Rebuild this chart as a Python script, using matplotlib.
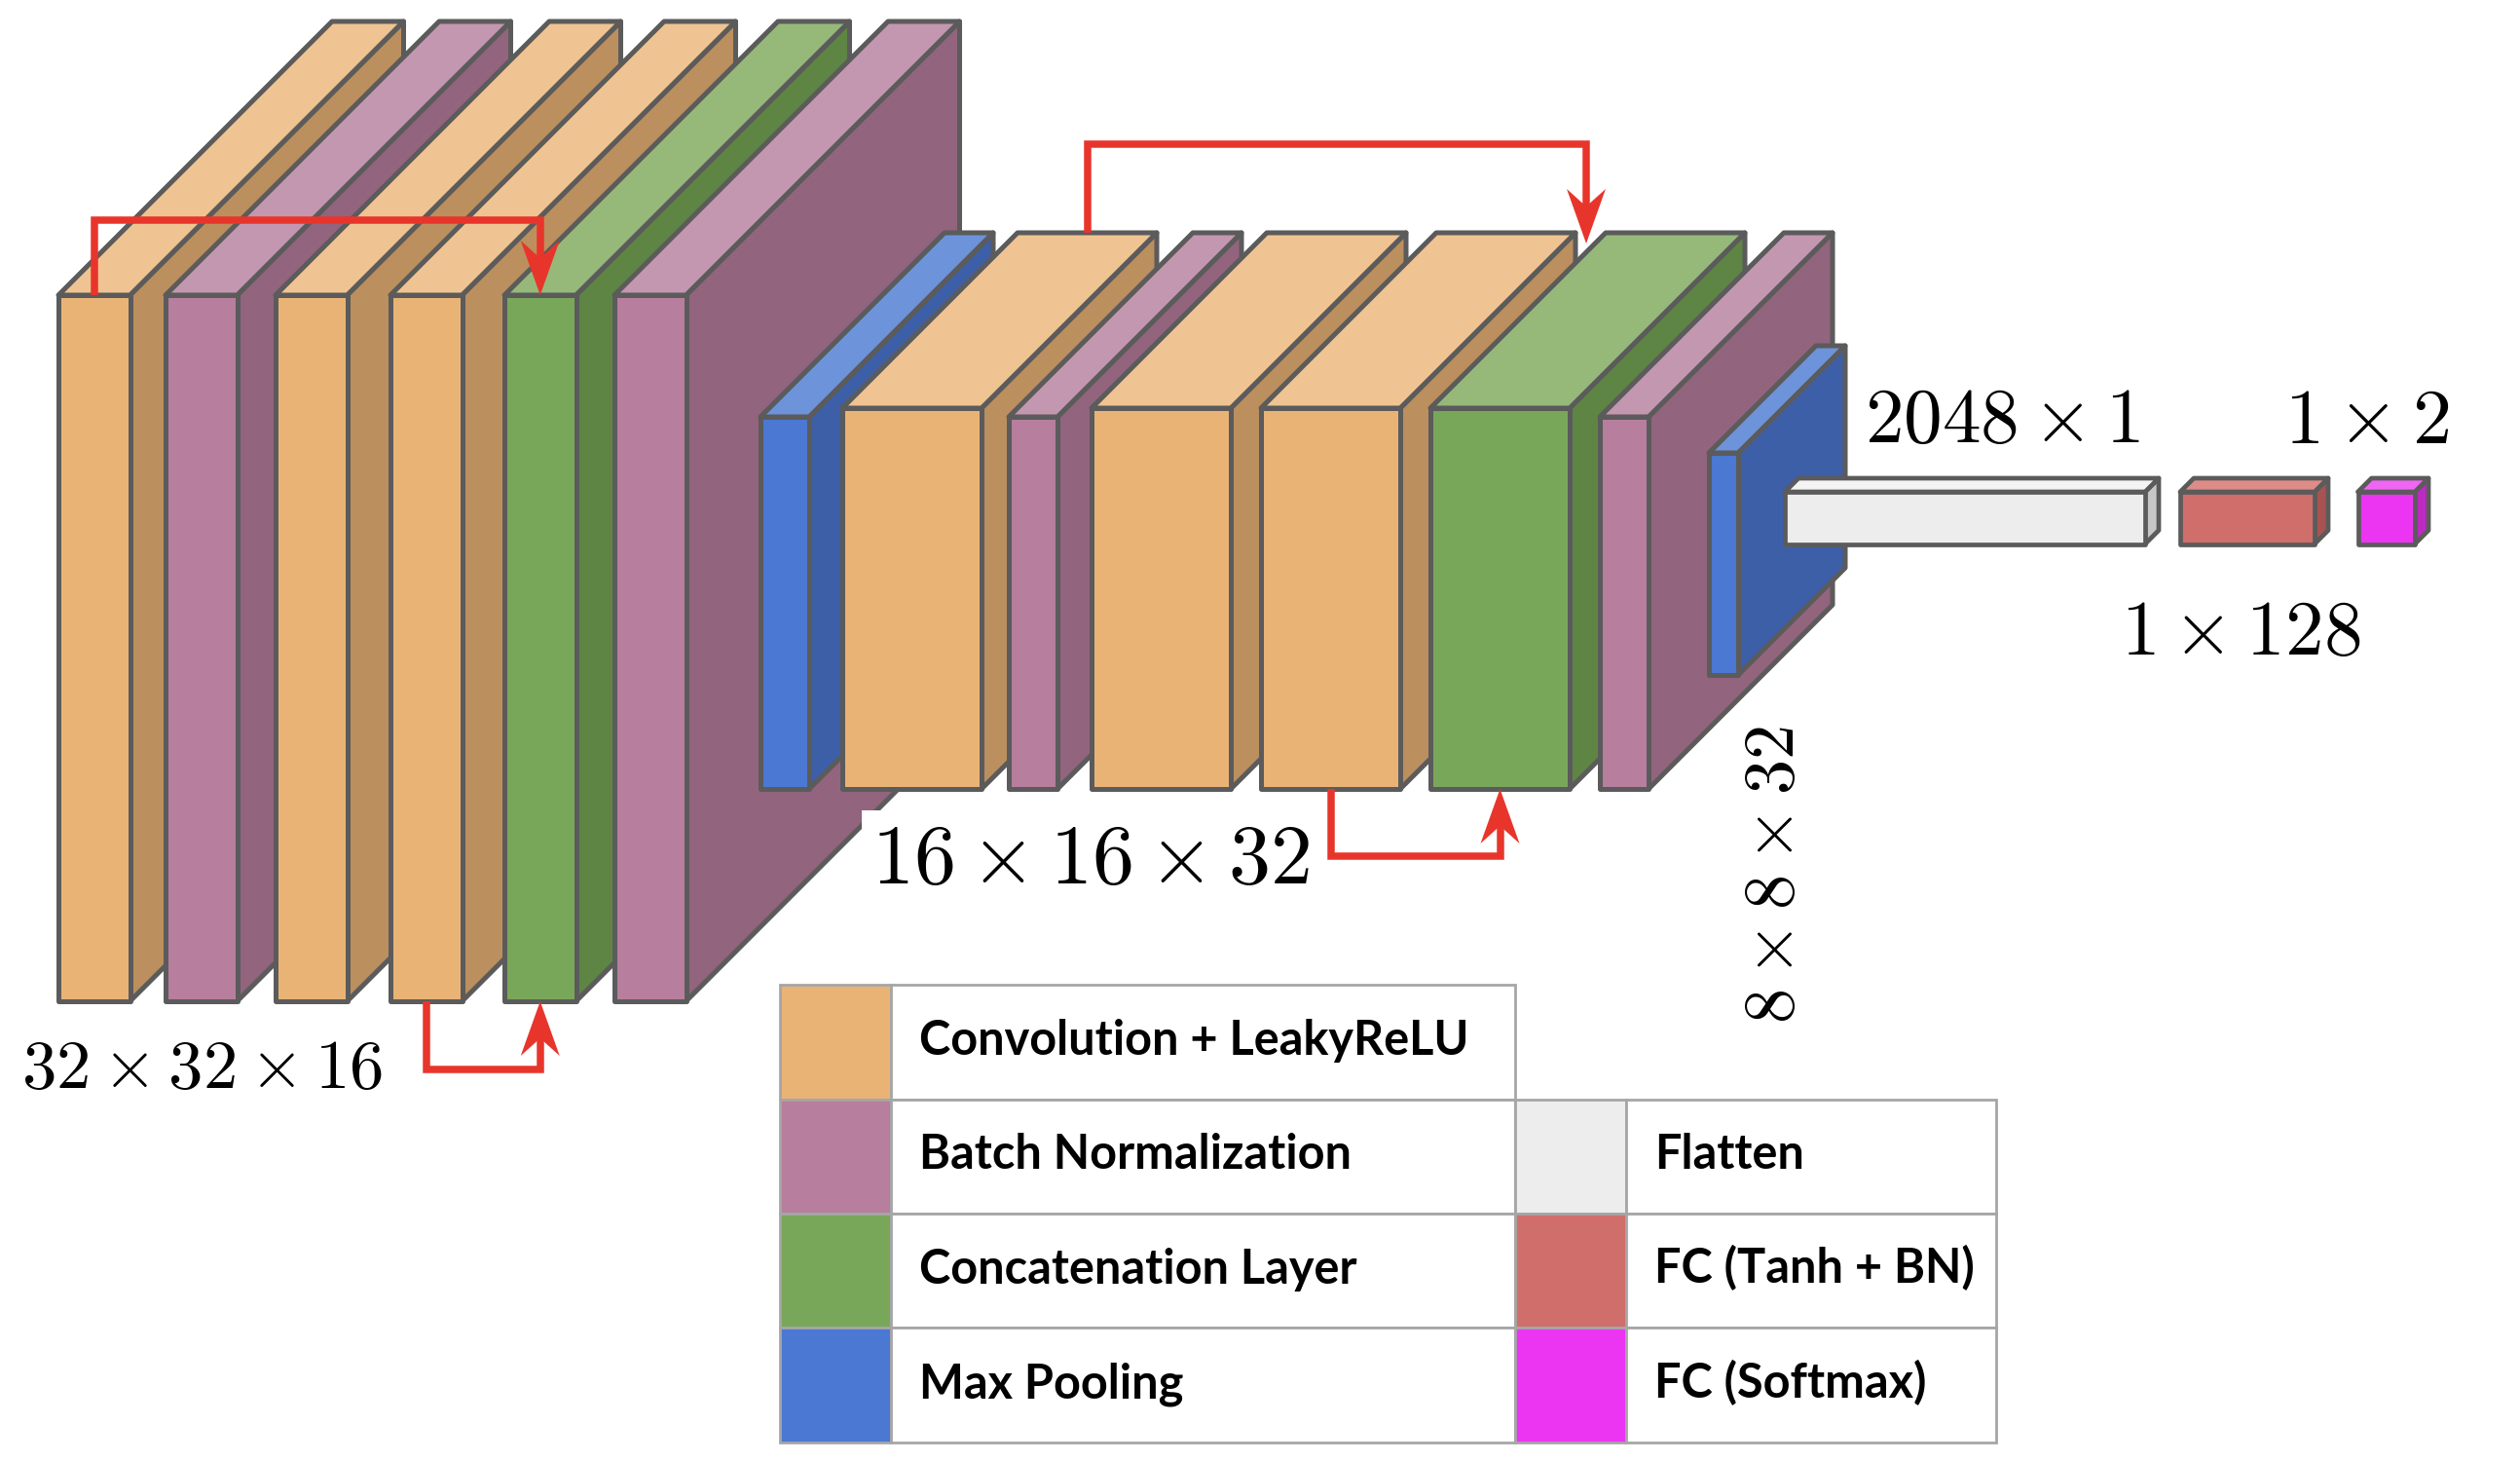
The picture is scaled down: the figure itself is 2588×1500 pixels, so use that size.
import matplotlib.pyplot as plt
from matplotlib.patches import Polygon, Rectangle

plt.rcParams['mathtext.fontset'] = 'cm'

# layer sequence of each stage
block1_layers = ['conv', 'bn', 'conv', 'conv', 'concat', 'bn']
block2_layers = ['pool', 'conv', 'bn', 'conv', 'conv', 'concat', 'bn']
block3_layers = ['pool']
dense_layers = ['flatten', 'fc', 'softmax']

# shape annotations
block_labels = [r'$32 \times 32 \times 16$', r'$16 \times 16 \times 32$', r'$8 \times 8 \times 32$']
dense_labels = [r'$2048 \times 1$', r'$1 \times 128$', r'$1 \times 2$']

# legend entries
legend_left_keys = ['conv', 'bn', 'concat', 'pool']
legend_left_text = ['Convolution + LeakyReLU', 'Batch Normalization', 'Concatenation Layer', 'Max Pooling']
legend_right_keys = ['flatten', 'fc', 'softmax']
legend_right_text = ['Flatten', 'FC (Tanh + BN)', 'FC (Softmax)']

# front / top / side colours
colors = {
    'conv':    ('#EAB376', '#F0C492', '#BC8F5E'),
    'bn':      ('#B77E9D', '#C497B0', '#92647D'),
    'concat':  ('#79A75A', '#96B97A', '#5F8545'),
    'pool':    ('#4B78D2', '#6D93DA', '#3D5FA8'),
    'flatten': ('#EDEDED', '#F4F4F4', '#C6C6C6'),
    'fc':      ('#D06E6B', '#DE8C88', '#A85352'),
    'softmax': ('#EC35F2', '#F066F4', '#BC2AC1'),
}
EDGE = '#5B5B5B'
RED = '#E8352B'
GRID = '#A6A6A6'

fig = plt.figure(figsize=(25.88, 15), dpi=100)
ax = fig.add_axes([0, 0, 1, 1])
ax.set_xlim(0, 2588)
ax.set_ylim(1500, 0)
ax.axis('off')


def box(x, w, top, bot, d, key, lw=3.6):
    front, topc, side = colors[key]
    x2 = x + w
    ax.add_patch(Polygon([(x2, top), (x2 + d, top - d), (x2 + d, bot - d), (x2, bot)],
                         closed=True, fc=side, ec=EDGE, lw=lw, joinstyle='round'))
    ax.add_patch(Polygon([(x, top), (x + d, top - d), (x2 + d, top - d), (x2, top)],
                         closed=True, fc=topc, ec=EDGE, lw=lw, joinstyle='round'))
    ax.add_patch(Rectangle((x, top), w, bot - top, fc=front, ec=EDGE, lw=lw, joinstyle='round'))


def skip(pts):
    # polyline ending in an arrow head at the last point
    tx, ty = pts[-1]
    px, py = pts[-2]
    s = 1 if ty > py else -1
    hl, hw, notch = 56, 20, 38
    line = pts[:-1] + [(tx, ty - s * notch)]
    xs, ys = zip(*line)
    ax.plot(xs, ys, color=RED, lw=5.4, solid_joinstyle='miter', solid_capstyle='butt', zorder=5)
    ax.add_patch(Polygon([(tx, ty), (tx - hw, ty - s * hl), (tx, ty - s * notch), (tx + hw, ty - s * hl)],
                         closed=True, fc=RED, ec='none', zorder=6))


# ---- stage 1 : 32x32x16
b1_x = [60, 170, 283, 401, 518, 631]
b1_w, b1_top, b1_bot, b1_d = 73.5, 303, 1028, 281
for key, x in zip(block1_layers, b1_x):
    box(x, b1_w, b1_top, b1_bot, b1_d, key)

# ---- stage 2 : 16x16x32
b2_x = [781, 865, 1036, 1121, 1295, 1469, 1643]
b2_bot = 810
for key, x in zip(block2_layers, b2_x):
    if key in ('pool', 'bn'):
        box(x, 50, 428, b2_bot, 189, key)
    else:
        box(x, 143, 419, b2_bot, 180, key)

# ---- stage 3 : 8x8x32
for key in block3_layers:
    box(1755, 30, 465, 693, 110, key)

# ---- dense part
dense_x = [1833, 2239, 2421.5]
dense_w = [370, 138, 58.5]
for key, x, w in zip(dense_layers, dense_x, dense_w):
    box(x, w, 505, 558.5, 14, key, lw=3.4)

# ---- skip connections
c = lambda x, w: x + w / 2
skip([(c(b1_x[0], b1_w), b1_top), (c(b1_x[0], b1_w), 226), (c(b1_x[4], b1_w), 226), (c(b1_x[4], b1_w), b1_top)])
skip([(c(b1_x[3], b1_w), b1_bot), (c(b1_x[3], b1_w), 1098), (c(b1_x[4], b1_w), 1098), (c(b1_x[4], b1_w), b1_bot)])
skip([(c(b2_x[1], 143) + 180, 239), (c(b2_x[1], 143) + 180, 148), (1629, 148), (1629, 250)])
skip([(c(b2_x[4], 143), b2_bot), (c(b2_x[4], 143), 879), (c(b2_x[5], 143), 879), (c(b2_x[5], 143), b2_bot)])

# ---- shape labels
ax.text(22, 1117, block_labels[0], fontsize=51, ha='left', va='baseline', color='black')
ax.text(895, 907, block_labels[1], fontsize=62, ha='left', va='baseline', color='black',
        bbox=dict(boxstyle='square,pad=0.12', fc='white', ec='none'))
ax.text(1822, 898, block_labels[2], fontsize=52, ha='center', va='center', rotation=90, color='black')
ax.text(1915, 454, dense_labels[0], fontsize=57, ha='left', va='baseline', color='black')
ax.text(2178, 672, dense_labels[1], fontsize=57, ha='left', va='baseline', color='black')
ax.text(2346, 455, dense_labels[2], fontsize=58, ha='left', va='baseline', color='black')

# ---- legend table
rows = [1011, 1129, 1246, 1363, 1481]
left_cols = [801, 915, 1556]
right_cols = [1556, 1670, 2050]
lfont = dict(fontsize=35, fontfamily='Lato', fontweight='bold', ha='left', va='baseline', color='black')

for i, (key, txt) in enumerate(zip(legend_left_keys, legend_left_text)):
    y0, y1 = rows[i], rows[i + 1]
    ax.add_patch(Rectangle((left_cols[0], y0), left_cols[1] - left_cols[0], y1 - y0,
                           fc=colors[key][0], ec=GRID, lw=2))
    ax.add_patch(Rectangle((left_cols[1], y0), left_cols[2] - left_cols[1], y1 - y0,
                           fc='white', ec=GRID, lw=2))
    ax.text(left_cols[1] + 29, (y0 + y1) / 2 + 13, txt, **lfont)

for i, (key, txt) in enumerate(zip(legend_right_keys, legend_right_text)):
    y0, y1 = rows[i + 1], rows[i + 2]
    ax.add_patch(Rectangle((right_cols[0], y0), right_cols[1] - right_cols[0], y1 - y0,
                           fc=colors[key][0], ec=GRID, lw=2))
    ax.add_patch(Rectangle((right_cols[1], y0), right_cols[2] - right_cols[1], y1 - y0,
                           fc='white', ec=GRID, lw=2))
    ax.text(right_cols[1] + 29, (y0 + y1) / 2 + 13, txt, **lfont)

fig.savefig('out.png', dpi=100, facecolor='white')
